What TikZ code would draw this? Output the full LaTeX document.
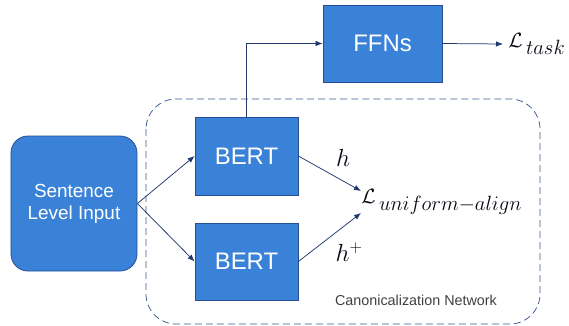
\documentclass[tikz,border=0pt]{standalone}
\usepackage{fontspec}
\setsansfont{Liberation Sans}
\usetikzlibrary{arrows.meta}
\definecolor{boxblue}{RGB}{58,130,216}
\definecolor{boxline}{RGB}{38,78,150}
\definecolor{arrowblue}{RGB}{31,56,110}
\definecolor{dashblue}{RGB}{58,88,142}
\begin{document}
\begin{tikzpicture}[x=1bp, y=-1bp, -{Latex[length=7bp,width=5.5bp]}, arrowblue, line width=0.75bp]
\useasboundingbox (0,0) rectangle (569,325);
\draw[-, dashblue, dash pattern=on 7bp off 4bp, rounded corners=30bp] (146,99) rectangle (540,324);
\tikzstyle{every node} = [rectangle, fill=boxblue, draw=boxline, line width=0.8bp, text=white, inner sep=0pt, font=\sffamily\fontsize{24}{28}\selectfont]
\node[minimum width=126bp, minimum height=135bp, rounded corners=17bp, align=center, font=\sffamily\fontsize{19}{22}\selectfont] (1) at (74,203.5) {Sentence\\Level Input};
\node[minimum width=103bp, minimum height=78bp] (2) at (246.5,156) {BERT};
\node[minimum width=103bp, minimum height=77bp] (3) at (246.5,261.5) {BERT};
\node[minimum width=119bp, minimum height=77bp] (4) at (382.5,43.5) {FFNs};
\tikzstyle{every node} = [text=black!85!arrowblue, inner sep=0pt, font=\fontsize{20}{24}\selectfont]
\node[anchor=west, font=\fontsize{22}{26}\selectfont] (5) at (508,44) {$\mathcal{L}_{\textstyle\,task}$};
\node[anchor=west, font=\fontsize{21}{24}\selectfont] (6) at (361,202) {$\mathcal{L}_{\textstyle\,uniform{-}align}$};
\node[font=\fontsize{23}{26}\selectfont] (7) at (343,158) {$h$};
\node[font=\fontsize{23}{26}\selectfont] (8) at (349,252) {$h^{+}$};
\node[text=black!75, font=\sffamily\fontsize{14.4}{17}\selectfont] (9) at (416,300) {Canonicalization Network};
\tikzstyle{every node} = []
\draw (1.east) -- (2.west);
\draw (1.east) -- (3.west);
\draw (2.east) -- ([yshift=11bp]6.west);
\draw (3.east) -- ([yshift=-11bp]6.west);
\draw (2.north) |- (4.west);
\draw (4.east) -- ([xshift=-5bp]5.west);
\end{tikzpicture}
\end{document}
